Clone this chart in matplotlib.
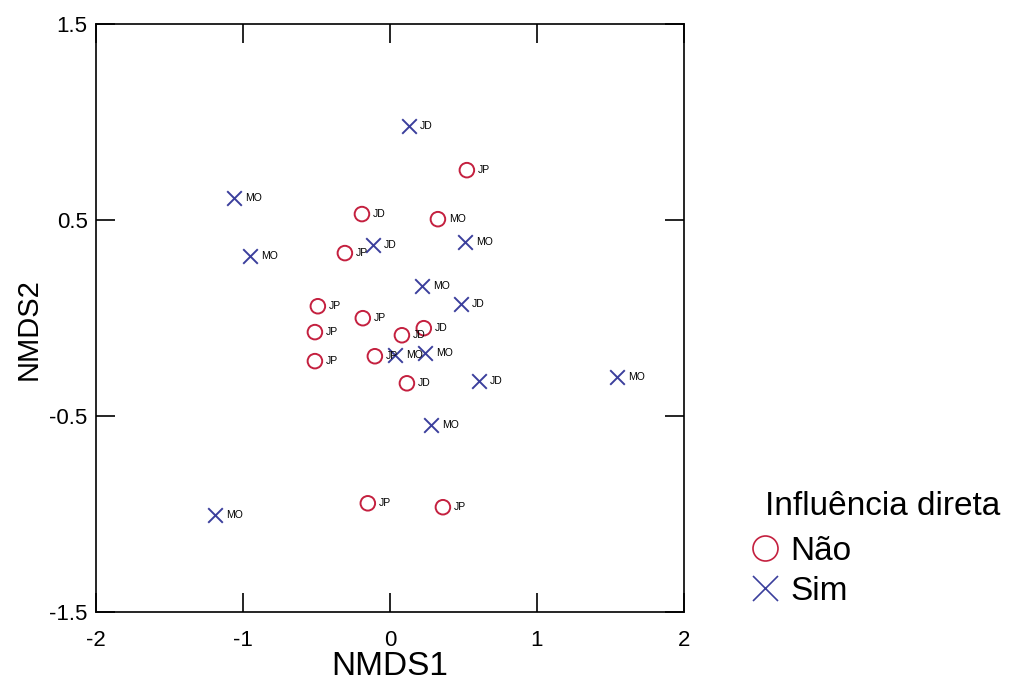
import matplotlib.pyplot as plt
from matplotlib.lines import Line2D

plt.rcParams['font.family'] = ['Liberation Sans', 'DejaVu Sans']
plt.rcParams['axes.unicode_minus'] = False

# Nao (open circles)
nao_x = [0.524, -0.190, 0.327, -0.306, -0.490, -0.184, -0.510, 0.082, 0.231, -0.510, -0.102, 0.116, -0.150, 0.361]
nao_y = [0.755, 0.531, 0.505, 0.332, 0.061, 0.000, -0.071, -0.087, -0.051, -0.219, -0.194, -0.332, -0.944, -0.964]
nao_lab = ['JP', 'JD', 'MO', 'JP', 'JP', 'JP', 'JP', 'JD', 'JD', 'JP', 'JP', 'JD', 'JP', 'JP']

# Sim (crosses)
sim_x = [0.129, -1.061, -0.952, -0.116, 0.510, 0.218, 0.483, 0.034, 0.238, 0.605, 1.544, 0.279, -1.190]
sim_y = [0.980, 0.612, 0.316, 0.372, 0.388, 0.163, 0.071, -0.189, -0.179, -0.321, -0.301, -0.546, -1.005]
sim_lab = ['JD', 'MO', 'MO', 'JD', 'MO', 'MO', 'JD', 'MO', 'MO', 'JD', 'MO', 'MO', 'MO']

red = '#c4203f'
blue = '#3b3f9c'

fig = plt.figure(figsize=(10.1, 6.88), dpi=100)
ax = fig.add_axes([0.095, 0.110, 0.582, 0.855])

ax.scatter(nao_x, nao_y, s=110, marker='o', facecolors='none', edgecolors=red, linewidths=1.4, zorder=3)
ax.scatter(sim_x, sim_y, s=110, marker='x', color=blue, linewidths=1.4, zorder=3)

for x, y, t in zip(nao_x, nao_y, nao_lab):
    ax.annotate(t, (x, y), xytext=(8, 0), textcoords='offset points', fontsize=7.5, va='center', ha='left')
for x, y, t in zip(sim_x, sim_y, sim_lab):
    ax.annotate(t, (x, y), xytext=(8, 0), textcoords='offset points', fontsize=7.5, va='center', ha='left')

ax.set_xlim(-2, 2)
ax.set_ylim(-1.5, 1.5)
ax.set_xticks([-2, -1, 0, 1, 2])
ax.set_yticks([-1.5, -0.5, 0.5, 1.5])
ax.set_yticklabels(['-1.5', '-0.5', '0.5', '1.5'])
ax.tick_params(direction='in', length=14, width=1.2, labelsize=16, top=True, right=True)
ax.tick_params(axis='x', pad=13)
ax.tick_params(axis='y', pad=6)
for sp in ax.spines.values():
    sp.set_linewidth(1.2)

ax.set_xlabel('NMDS1', fontsize=24, labelpad=0)
ax.set_ylabel('NMDS2', fontsize=21)
ax.yaxis.set_label_coords(-0.09, 0.482)

# legend: title as text, entries as legend
fig.text(0.757, 1 - 515 / 688, 'Influência direta', fontsize=24, ha='left', va='baseline')
handles = [
    Line2D([], [], marker='o', linestyle='none', markersize=18, markerfacecolor='none', markeredgecolor=red, markeredgewidth=1.2, label='Não'),
    Line2D([], [], marker='x', linestyle='none', markersize=18, color=blue, markeredgewidth=1.2, label='Sim'),
]
fig.legend(handles=handles, loc='upper left', bbox_to_anchor=(0.7406, 1 - 536 / 688),
           frameon=False, fontsize=24, handletextpad=0.27, labelspacing=0.27,
           handlelength=1.0, borderpad=0, borderaxespad=0)

fig.savefig('out.png', dpi=100)
